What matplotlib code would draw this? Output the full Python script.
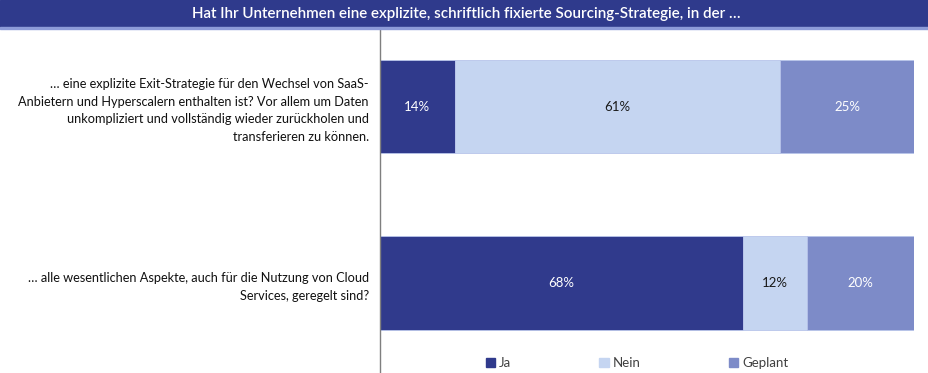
import matplotlib.pyplot as plt
from matplotlib.patches import Rectangle, Patch

plt.rcParams['font.family'] = ['Lato', 'DejaVu Sans']

fragen = [
    '… eine explizite Exit-Strategie für den Wechsel von SaaS-\n'
    'Anbietern und Hyperscalern enthalten ist? Vor allem um Daten\n'
    'unkompliziert und vollständig wieder zurückholen und\n'
    'transferieren zu können.',
    '… alle wesentlichen Aspekte, auch für die Nutzung von Cloud\n'
    'Services, geregelt sind?',
]
ja = [14, 68]
nein = [61, 12]
geplant = [25, 20]
serien = ['Ja', 'Nein', 'Geplant']
farben = ['#303a8c', '#c5d5f1', '#7d8bc8']
textfarben = ['white', '#1a1a1a', 'white']
titel = 'Hat Ihr Unternehmen eine explizite, schriftlich fixierte Sourcing-Strategie, in der …'

W, H = 929, 373
fig = plt.figure(figsize=(W / 100, H / 100), dpi=100)

# header band
fig.patches.append(Rectangle((0, 1 - 27 / H), 1, 27 / H, transform=fig.transFigure,
                             color='#2f3a8c', zorder=0))
fig.patches.append(Rectangle((0, 1 - 29 / H), 1, 2 / H, transform=fig.transFigure,
                             color='#8d9bd8', zorder=0))
fig.text(466 / W, 1 - 14 / H, titel, color='white', ha='center', va='center',
         fontsize=10.9, fontweight='semibold')

ax = fig.add_axes([380 / W, 0, (914 - 380) / W, 1 - 29 / H])
pos = [0, 1]
links = [0, 0]
for werte, farbe, tf, name in zip([ja, nein, geplant], farben, textfarben, serien):
    bars = ax.barh(pos, werte, left=links, height=0.53, color=farbe,
                   edgecolor='#b8c4ea', linewidth=0.6, label=name)
    ax.bar_label(bars, labels=[f'{w}%' for w in werte], label_type='center',
                 color=tf, fontsize=9.5)
    links = [l + w for l, w in zip(links, werte)]

ax.set_xlim(0, 100)
ax.set_ylim(1.51, -0.44)
ax.set_yticks(pos)
ax.set_yticklabels(fragen, fontsize=9.2, color='#111111', ha='right',
                   linespacing=1.55)
ax.tick_params(axis='y', length=0, pad=8)
ax.set_xticks([])
for s in ['top', 'right', 'bottom']:
    ax.spines[s].set_visible(False)
ax.spines['left'].set_color('#7f7f7f')
ax.spines['left'].set_linewidth(1)

handles = [Patch(color=c, label=n) for c, n in zip(farben, serien)]
fig.legend(handles=handles, loc='center', bbox_to_anchor=(637 / W, 10 / H),
           ncol=3, frameon=False, fontsize=9.5, handlelength=0.7, handleheight=0.7,
           handletextpad=0.3, columnspacing=6.7, labelcolor='#404040')

fig.savefig('out.png', dpi=100)
